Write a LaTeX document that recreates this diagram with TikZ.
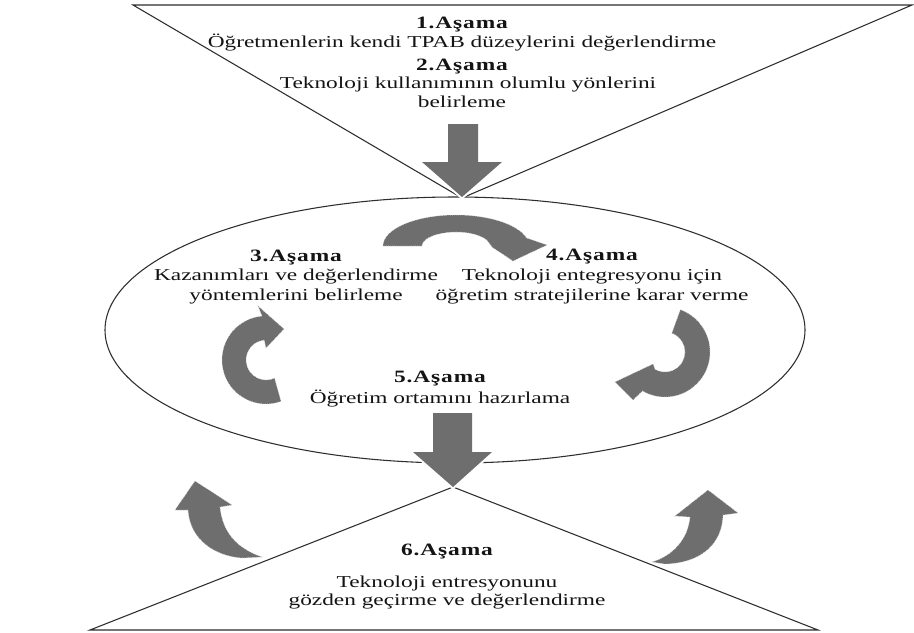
\documentclass[tikz,border=0pt]{standalone}
\usepackage{fontspec}
\setmainfont{Liberation Serif}
\newfontfamily\stagefont[FakeStretch=1.4]{Liberation Serif}
\newfontfamily\headfont[FakeStretch=1.35,LetterSpace=5]{Liberation Serif}
\usetikzlibrary{shapes.geometric}
\definecolor{arrowgray}{HTML}{6E6E6E}
\definecolor{linegray}{HTML}{2E2E2E}
\definecolor{inkgray}{HTML}{141414}
\begin{document}
\begin{tikzpicture}[x=0.75pt,y=-0.75pt,
  outline/.style={draw=linegray, line width=0.8pt},
  bigarrow/.style={fill=arrowgray, preaction={draw=white, line width=3pt}},
  turnarrow/.style={fill=arrowgray, draw=white!75!arrowgray, densely dotted, line width=0.45pt},
  title/.style={font=\headfont\bfseries\fontsize{13pt}{15pt}\selectfont, text=inkgray, anchor=base, inner sep=0pt},
  desc/.style={font=\stagefont\fontsize{12.5pt}{15pt}\selectfont, text=inkgray, anchor=base, inner sep=0pt}]
\useasboundingbox (0,0) rectangle (914,632);
\fill[white] (0,0) rectangle (914,632);

% upper (inverted) triangle
\coordinate (tl) at (133,5);
\coordinate (tr) at (912,5);
\coordinate (tapex) at (462,198);
\draw[outline] (tl) -- (tr) -- (tapex) -- cycle;

% central oval
\node[ellipse, draw=linegray, line width=0.8pt, minimum width=525pt, minimum height=199.5pt, inner sep=0pt] (oval) at (455,330) {};

% lower triangle
\coordinate (bl) at (90,630);
\coordinate (br) at (818,630);
\coordinate (bapex) at (453,487);
\draw[outline] (bl) -- (bapex) -- (br) -- cycle;

% straight down arrows
\path[bigarrow] (448,124) -- (478,124) -- (478,162) -- (502,162) -- (462,197) -- (422,162) -- (448,162) -- cycle;
\path[bigarrow] (433,413) -- (472,413) -- (472,452) -- (492,452) -- (453,487) -- (413,452) -- (433,452) -- cycle;

% turning arrows inside the oval
\path[turnarrow] (383,246) arc[start angle=180, end angle=345, x radius=73, y radius=31]
  -- (547,245) -- (513,261) -- (492,247) -- (488.8,242.4)
  arc[start angle=345, end angle=180, x radius=34, y radius=14] -- cycle;
\path[turnarrow] (281,401.3) arc[start angle=70, end angle=265, radius=44]
  -- (258,306) -- (284,329) -- (266,348) -- (264.3,340.1)
  arc[start angle=265, end angle=65, radius=20] -- cycle;
\path[turnarrow] (680.4,309.7) arc[start angle=290, end angle=480, radius=45]
  -- (633,400) -- (615,382) -- (653,364) -- (655,369.3)
  arc[start angle=480, end angle=290, radius=20] -- cycle;

% rising arrows beside the lower triangle
\path[turnarrow] (242,558) .. controls (215,556) and (190,540) .. (188,510)
  -- (175,510) -- (195,481) -- (232,505) -- (220,507)
  .. controls (222,530) and (235,548) .. (262,557) -- cycle;
\path[turnarrow] (652,562) .. controls (672,556) and (688,540) .. (690,517)
  -- (675,516) -- (708,490) -- (738,513) -- (723,515)
  .. controls (722,545) and (700,563) .. (665,564) -- cycle;

% stage texts
\node[title] (s1) at (462,28) {1.Aşama};
\node[desc] (s1a) at (462,47) {Öğretmenlerin kendi TPAB düzeylerini değerlendirme};
\node[title] (s2) at (462,70) {2.Aşama};
\node[desc] (s2a) at (468,88) {Teknoloji kullanımının olumlu yönlerini};
\node[desc] (s2b) at (462,107) {belirleme};

\node[title] (s3) at (296,261) {3.Aşama};
\node[desc] (s3a) at (296,280) {Kazanımları ve değerlendirme};
\node[desc] (s3b) at (296,300) {yöntemlerini belirleme};

\node[title] (s4) at (592,260) {4.Aşama};
\node[desc] (s4a) at (592,280) {Teknoloji entegresyonu için};
\node[desc] (s4b) at (592,300) {öğretim stratejilerine karar verme};

\node[title] (s5) at (440,382) {5.Aşama};
\node[desc] (s5a) at (440,403) {Öğretim ortamını hazırlama};

\node[title] (s6) at (447,555) {6.Aşama};
\node[desc] (s6a) at (447,587) {Teknoloji entresyonunu};
\node[desc] (s6b) at (447,605) {gözden geçirme ve değerlendirme};
\end{tikzpicture}
\end{document}
